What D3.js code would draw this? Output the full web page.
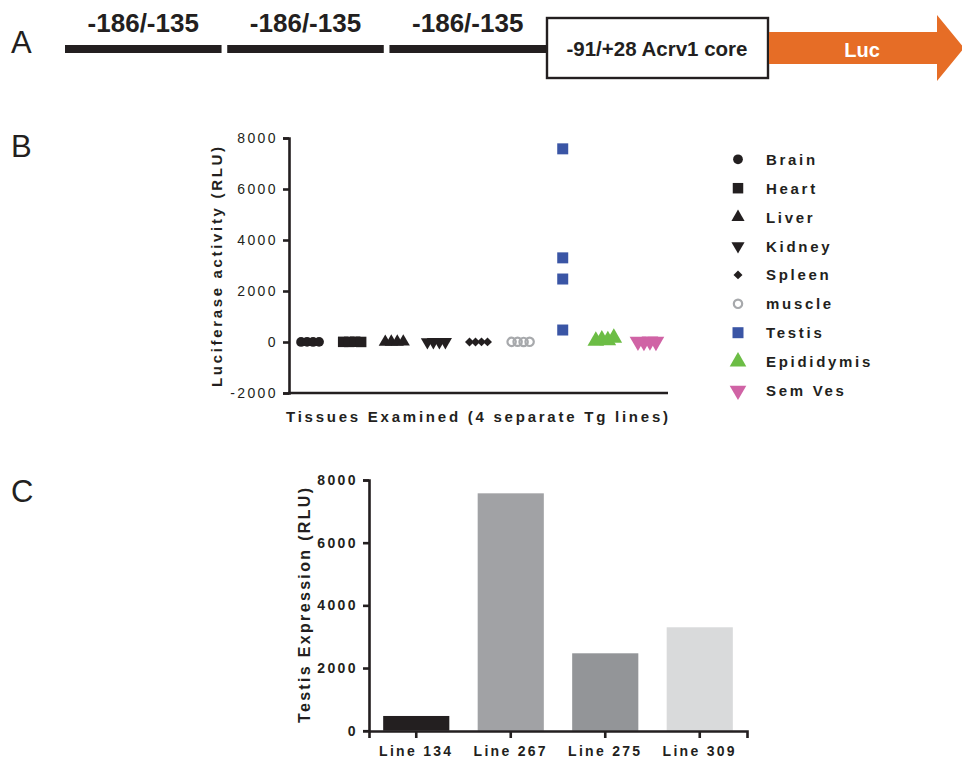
<!DOCTYPE html>
<html>
<head>
<meta charset="utf-8">
<script src="https://cdnjs.cloudflare.com/ajax/libs/d3/7.8.5/d3.min.js"></script>
<style>
  body { margin: 0; background: #fff; }
  text { font-family: "Liberation Sans", Arial, sans-serif; fill: #231f20; }
</style>
</head>
<body>
<div id="figure"></div>
<script>
var w = 962;
var h = 762;

// construct labels (panel A)
var repeatLabels = ["-186/-135", "-186/-135", "-186/-135"];
var coreLabel = "-91/+28 Acrv1 core";
var reporterLabel = "Luc";

// panel B: tissues, 4 transgenic lines each (RLU)
var tissues = ["Brain", "Heart", "Liver", "Kidney", "Spleen", "muscle", "Testis", "Epididymis", "Sem Ves"];
var brain = [3, 8, 2, 5];
var heart = [6, 4, 10, 2];
var liver = [1, 5, 3, 8];
var kidney = [2, 4, 1, 3];
var spleen = [3, 2, 6, 4];
var muscle = [5, 9, 3, 7];
var testis = [470, 7575, 2470, 3300];
var epididymis = [40, 90, 60, 160];
var semVes = [20, 10, 30, 15];
var scatterTicks = [-2000, 0, 2000, 4000, 6000, 8000];

// panel C: testis expression by line
var lines = ["Line 134", "Line 267", "Line 275", "Line 309"];
var barTicks = [0, 2000, 4000, 6000, 8000];

var ink = "#231f20";
var plain = function(d) { return String(d); }; // "-2000", no thousands comma

var svg = d3.select("#figure")
    .append("svg")
    .attr("width", w)
    .attr("height", h);

// panel letters
[["A", 53], ["B", 157], ["C", 502]].forEach(function(p) {
  svg.append("text")
    .attr("x", 11).attr("y", p[1])
    .style("font-size", "31px")
    .text(p[0]);
});

///////////////////
// A. construct //
/////////////////
var segX = d3.scaleBand().domain(d3.range(repeatLabels.length)).range([65, 546]).paddingInner(0.035);

repeatLabels.forEach(function(lab, i) {
  svg.append("rect")
    .attr("x", segX(i)).attr("y", 45)
    .attr("width", segX.bandwidth()).attr("height", 8)
    .attr("fill", ink);
  svg.append("text")
    .attr("x", segX(i) + segX.bandwidth() / 2)
    .attr("y", 32)
    .attr("text-anchor", "middle")
    .style("font-size", "26px").style("font-weight", "bold")
    .text(lab);
});

svg.append("rect")
  .attr("x", 547).attr("y", 18)
  .attr("width", 221).attr("height", 60)
  .attr("fill", "#fff").attr("stroke", ink).attr("stroke-width", 2.4);
svg.append("text")
  .attr("x", 657).attr("y", 56)
  .attr("text-anchor", "middle")
  .style("font-size", "20.5px").style("font-weight", "bold")
  .text(coreLabel);

svg.append("path")
  .attr("d", "M769,32 L937,32 L937,15 L964,48 L937,81 L937,64 L769,64 Z")
  .attr("fill", "#e66d26");
svg.append("text")
  .attr("x", 862).attr("y", 57)
  .attr("text-anchor", "middle")
  .style("font-size", "20px").style("font-weight", "bold")
  .style("fill", "#fff")
  .text(reporterLabel);

///////////////////////
// B. tissue scatter //
///////////////////////
var series = [
  { name: tissues[0], values: brain,      shape: d3.symbolCircle,   size: 75,  fill: ink,       stroke: "none", rot: 0 },
  { name: tissues[1], values: heart,      shape: d3.symbolSquare,   size: 110, fill: ink,       stroke: "none", rot: 0 },
  { name: tissues[2], values: liver,      shape: d3.symbolTriangle, size: 75,  fill: ink,       stroke: "none", rot: 0 },
  { name: tissues[3], values: kidney,     shape: d3.symbolTriangle, size: 75,  fill: ink,       stroke: "none", rot: 180 },
  { name: tissues[4], values: spleen,     shape: d3.symbolSquare,   size: 40,  fill: ink,       stroke: "none", rot: 45 },
  { name: tissues[5], values: muscle,     shape: d3.symbolCircle,   size: 55,  fill: "none",    stroke: "#a7a9ac", rot: 0 },
  { name: tissues[6], values: testis,     shape: d3.symbolSquare,   size: 121, fill: "#3a55a5", stroke: "none", rot: 0 },
  { name: tissues[7], values: epididymis, shape: d3.symbolTriangle, size: 120, fill: "#6cbd45", stroke: "none", rot: 0 },
  { name: tissues[8], values: semVes,     shape: d3.symbolTriangle, size: 120, fill: "#d063a5", stroke: "none", rot: 180 }
];

var xScale = d3.scaleBand().domain(tissues).range([289, 668]);
var yScale = d3.scaleLinear().domain([-2000, 8000]).range([393, 138]);
var spread = [-9, -3, 3, 9];

var gB = svg.append("g");

series.forEach(function(s) {
  var px = s.values.map(function(v) { return yScale(v); });
  var overlap = d3.max(px) - d3.min(px) < 20;
  gB.selectAll(null)
    .data(s.values)
    .enter().append("path")
    .attr("d", d3.symbol().type(s.shape).size(s.size))
    .attr("transform", function(d, i) {
      var cx = xScale(s.name) + xScale.bandwidth() / 2 + (overlap ? spread[i] : 0);
      return "translate(" + cx + "," + yScale(d) + ") rotate(" + s.rot + ")";
    })
    .attr("fill", s.fill)
    .attr("stroke", s.stroke)
    .attr("stroke-width", s.stroke === "none" ? 0 : 2.2);
});

// y axis
var yAxisB = gB.append("g")
  .attr("transform", "translate(289,0)")
  .call(d3.axisLeft(yScale).tickValues(scatterTicks).tickFormat(plain).tickSize(6).tickPadding(5));
yAxisB.selectAll("text")
  .style("font-size", "14px").style("letter-spacing", "2.4px")
  .style("fill", ink);
// x axis line (no ticks)
gB.append("line")
  .attr("x1", 288).attr("x2", 668).attr("y1", 393).attr("y2", 393)
  .attr("stroke", ink).attr("stroke-width", 2.6);

gB.append("text")
  .attr("x", 286).attr("y", 422)
  .attr("textLength", 382).attr("lengthAdjust", "spacing")
  .style("font-size", "15px").style("font-weight", "bold")
  .text("Tissues Examined (4 separate Tg lines)");
gB.append("text")
  .attr("transform", "translate(222,387) rotate(-90)")
  .attr("textLength", 240).attr("lengthAdjust", "spacing")
  .style("font-size", "15px").style("font-weight", "bold")
  .text("Luciferase activity (RLU)");

// legend
var legend = gB.selectAll(".legend")
  .data(series)
  .enter().append("g")
  .attr("transform", function(d, i) { return "translate(738," + (159.3 + i * 28.9) + ")"; });
legend.append("path")
  .attr("d", function(d) { return d3.symbol().type(d.shape).size(d.size)(); })
  .attr("transform", function(d) { return "rotate(" + d.rot + ")"; })
  .attr("fill", function(d) { return d.fill; })
  .attr("stroke", function(d) { return d.stroke; })
  .attr("stroke-width", function(d) { return d.stroke === "none" ? 0 : 2.2; });
legend.append("text")
  .attr("x", 28).attr("y", 5.5)
  .style("font-size", "15px").style("font-weight", "bold")
  .style("letter-spacing", "2.7px")
  .text(function(d) { return d.name; });

/////////////////////
// C. testis bars //
/////////////////////
var xBar = d3.scaleBand().domain(lines).range([369, 747]).paddingInner(0.3).paddingOuter(0.15);
var yBar = d3.scaleLinear().domain([0, 8000]).range([730.7, 480]);
var barColors = ["#231f20", "#a1a2a5", "#939598", "#d9dadb"];

var gC = svg.append("g");

gC.selectAll("rect")
  .data(testis)
  .enter().append("rect")
  .attr("x", function(d, i) { return xBar(lines[i]); })
  .attr("y", function(d) { return yBar(d); })
  .attr("width", xBar.bandwidth())
  .attr("height", function(d) { return yBar(0) - yBar(d); })
  .attr("fill", function(d, i) { return barColors[i]; });

var yAxisC = gC.append("g")
  .attr("transform", "translate(369,0)")
  .call(d3.axisLeft(yBar).tickValues(barTicks).tickFormat(plain).tickSize(6).tickPadding(5));
yAxisC.selectAll("text")
  .style("font-size", "14px").style("font-weight", "bold")
  .style("letter-spacing", "2.4px").style("fill", ink);

var xAxisC = gC.append("g")
  .attr("transform", "translate(0,731)")
  .call(d3.axisBottom(xBar).tickSize(7).tickPadding(8));
xAxisC.selectAll("text")
  .style("font-size", "14px").style("font-weight", "bold")
  .style("letter-spacing", "2.3px").style("fill", ink);

gC.append("text")
  .attr("transform", "translate(310,723) rotate(-90)")
  .attr("textLength", 235).attr("lengthAdjust", "spacing")
  .style("font-size", "16px").style("font-weight", "bold")
  .text("Testis Expression (RLU)");

// common axis styling
svg.selectAll(".domain, .tick line")
  .attr("stroke", ink).attr("stroke-width", 2.6);
</script>
</body>
</html>
